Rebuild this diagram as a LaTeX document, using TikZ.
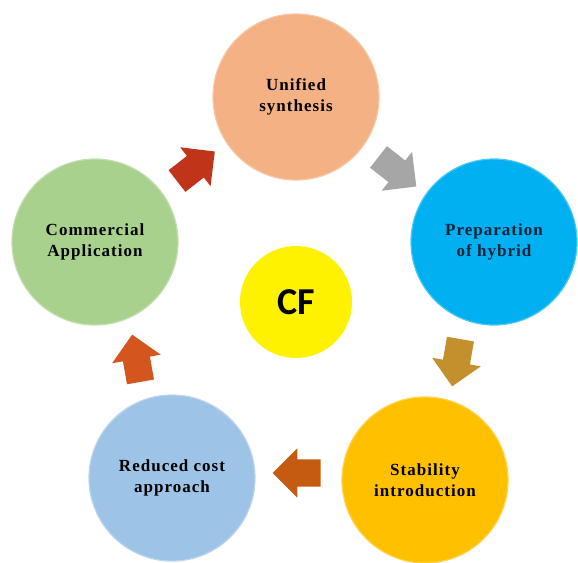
\documentclass[tikz,border=0pt]{standalone}
\usepackage{fontspec}
\setmainfont{Liberation Serif}
\newfontfamily\cffont{Carlito}
\usetikzlibrary{shapes.arrows, calc}
\definecolor{peach}{RGB}{244, 177, 131}
\definecolor{sky}{RGB}{0, 176, 240}
\definecolor{gold}{RGB}{255, 192, 0}
\definecolor{paleblue}{RGB}{157, 195, 230}
\definecolor{palegreen}{RGB}{169, 209, 142}
\definecolor{navytext}{RGB}{14, 34, 56}
\definecolor{redarrow}{RGB}{192, 52, 26}
\definecolor{grayarrow}{RGB}{166, 166, 166}
\definecolor{goldarrow}{RGB}{196, 144, 46}
\definecolor{brownarrow}{RGB}{197, 90, 17}
\definecolor{orangearrow}{RGB}{210, 86, 30}

\begin{document}
\begin{tikzpicture}[
    x=1pt, y=-1pt,
    stage/.style={circle, minimum size=166pt, inner sep=0pt, fill=#1, draw=#1!70!white, line width=1.2pt,
        font=\fontsize{17}{20.5}\selectfont\bfseries\addfontfeatures{LetterSpace=6}, align=center, text=black},
    core/.style={circle, minimum size=112pt, inner sep=0pt, fill=yellow, font=\cffont\fontsize{38}{42}\selectfont\bfseries},
    flow/.style={single arrow, draw=none, fill=#1, minimum height=48pt, inner xsep=0pt, inner ysep=13.5pt,
        single arrow head extend=11pt, single arrow head indent=0pt}
]
\useasboundingbox (0,0) rectangle (578,562);

\node [stage=peach] (unified) at (296,97) {Unified\\synthesis};
\node [stage=sky, text=navytext] (hybrid) at (494,242) {Preparation\\of hybrid};
\node [stage=gold] (stability) at (425,480) {Stability\\introduction};
\node [stage=paleblue] (reduced) at (172,478) {Reduced cost\\approach};
\node [stage=palegreen] (commercial) at (95,242) {Commercial\\Application};
\node [core] (cf) at (296,302) {CF};

% arrows between the stages
\node [flow=redarrow, rotate=38] (a1) at ($(commercial)!0.5!(unified)+(-5,1)$) {};
\node [flow=grayarrow, rotate=-38] (a2) at ($(unified)!0.5!(hybrid)+(-3,-2)$) {};
\node [flow=goldarrow, rotate=-100] (a3) at ($(hybrid)!0.5!(stability)+(-2,-5)$) {};
\node [flow=brownarrow, rotate=180] (a4) at ($(stability)!0.5!(reduced)+(5,-6)$) {};
\node [flow=orangearrow, rotate=100] (a5) at ($(reduced)!0.5!(commercial)+(4,5)$) {};
\end{tikzpicture}
\end{document}
